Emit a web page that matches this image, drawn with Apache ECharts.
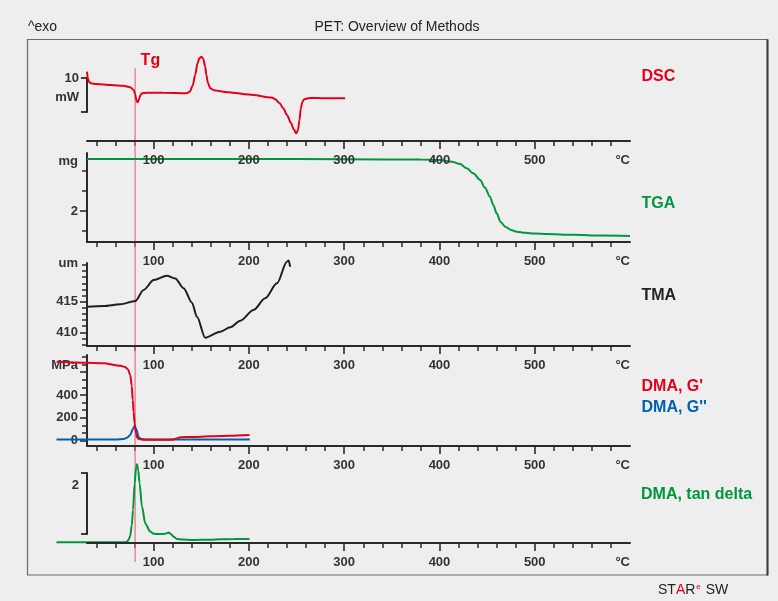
<!DOCTYPE html>
<html><head><meta charset="utf-8">
<script src="https://cdn.jsdelivr.net/npm/echarts@6/dist/echarts.min.js"></script>
<style>html,body{margin:0;padding:0;background:#eeeeee}#c{width:778px;height:601px}</style>
</head><body><div id="c"></div>
<script>
// ---------- axis / tick data ----------
const xMin = 30, xMax = 600;
const xDataMin = -10;   // DMA curves start left of the temperature axis
const xMinorTicks = [40,60,80,120,140,160,180,220,240,260,280,320,340,360,380,420,440,460,480,520,540,560,580];
const xMajorTicks = [100,200,300,400,500];
const xLabelVals = [100,200,300,400,500,600];
const xLabelText = ['100','200','300','400','500','°C'];

const tgaMinorTicks = [1.5,2.5,3];
const tgaMajorTicks = [2];
const tgaLabelVals = [2,3.22];
const tgaLabelText = ['2','mg'];

const tmaMinorTicks = [408,409,411,412,413,414,416,417,418,419,420,421];
const tmaMajorTicks = [410,415];
const tmaLabelVals = [410,415,421.2];
const tmaLabelText = ['410','415','um'];

const dmaMinorTicks = [66.7,133.3,266.7,333.3,466.7,533.3,666.7,733.3];
const dmaMajorTicks = [0,200,400,600];
const dmaLabelVals = [0,200,400,663];
const dmaLabelText = ['0','200','400','MPa'];

const dscBarTicks = [0,10];
const dscBarLabelVals = [4.3,10];
const dscBarLabelText = ['mW','10'];
const tanBarTicks = [0,2];
const tanBarLabelVals = [1.6];
const tanBarLabelText = ['2'];

const Tg = 80.5;

// ---------- series data ----------
const dscT = [30,31,32,34,40,55,68.4,75.4,79,80.5,81.8,83.1,84.5,86,87.7,93,110,135,138,141,143.6,146,148,150,152,154,155.2,157,159.4,163,170,177,200,224,228,232,236,240,244,247,249.6,251.5,253,254.5,256,258,264,280,301];
const dscV = [11.87,9.8,8.9,8.45,8.2,7.9,7.7,7.24,6.44,5.2,3.5,2.79,3.6,4.9,5.46,5.64,5.6,5.5,6.0,7.8,11.0,14.3,15.9,16.3,15.7,13.5,11.0,8.5,6.94,6.4,6.1,5.8,5.1,4.2,3.6,2.6,1.0,-1.0,-3.3,-5.2,-6.4,-5.5,-2.5,1.0,2.9,3.7,4.1,4.0,3.98];

const tgaT = [30,100,200,300,380,400,413,421.6,428.7,435.5,442.7,447.7,453,456.5,460,464.2,469,475,481,490,500,512.6,540,570,600];
const tgaV = [3.29,3.29,3.29,3.285,3.275,3.265,3.223,3.166,3.06,2.935,2.77,2.58,2.355,2.15,1.943,1.73,1.61,1.53,1.486,1.46,1.44,1.43,1.41,1.39,1.38];

const tmaT = [30,47.4,65,80.7,89.4,100,113.9,122.6,131.4,140.2,145.4,154.1,169.9,180.4,190.9,204.8,217.1,229.4,239.9,241.6,243.3];
const tmaV = [414.18,414.3,414.57,415.11,416.9,418.54,419.24,418.8,417.19,414.84,412.55,409.13,410.1,410.82,411.9,413.65,415.55,418.0,421.53,421.7,420.7];

const dmaG1T = [-2,30,47,65,70,73,75.4,77,78,79,80,81.3,82.5,84,87.7,100,115,121,124,128,140,160,180,200.6];
const dmaG1V = [692,683,678,657,645,625,575,480,356,250,152,70,30,16,10,8,8,10,20,30,33,38,43,50];
const dmaG2T = [-2,30,60,68.4,72,75.4,78,80,82,84.2,87,89.4,100,150,201];
const dmaG2V = [10,10,11,14,25,50,100,129,95,30,14,10,10,10,10];

const tanT = [-2,30,60,70,72,74,75.4,77,78.3,80,81.5,82.5,83.8,85.2,87.7,91.2,96.4,100,107,112,115.7,118,121,124.4,130,141.9,160,170,185,200.6];
const tanV = [0,0,0,0,0.02,0.1,0.22,0.55,1.06,1.93,2.45,2.56,2.35,1.93,1.17,0.62,0.35,0.28,0.27,0.28,0.32,0.27,0.18,0.11,0.09,0.075,0.085,0.1,0.105,0.11];

// ---------- styling ----------
const FONT = '"Liberation Sans", Arial, Helvetica, sans-serif';
const RED = '#e2001a', GREEN = '#00963f', BLUE = '#0060ad', BLACK = '#1e1e1e';
const AX = '#2a2a2a';
const L = 87, R = 148;
const PX_PER_DEG = (778 - R - L) / (xMax - xMin);
const L_DATA = L - (xMin - xDataMin) * PX_PER_DEG;

function pair(a, b) { return a.map((t, i) => [t, b[i]]); }
function lookup(vals, texts) {
  return function (v) {
    for (let i = 0; i < vals.length; i++) if (Math.abs(vals[i] - v) < 1e-6) return texts[i];
    return '';
  };
}
function grid(top, height, left) {
  return { left: left == null ? L : left, right: R, top: top, height: height, containLabel: false, outerBoundsMode: 'none', show: false };
}
const labelStyle = { color: '#333', fontSize: 13, fontWeight: 'bold', fontFamily: FONT };

function xPair(gi) {
  return [
    { type: 'value', gridIndex: gi, min: xMin, max: xMax, position: 'bottom',
      axisLine: { show: false, onZero: false }, splitLine: { show: false },
      axisLabel: { show: false },
      axisTick: { show: true, length: 5, customValues: xMinorTicks, lineStyle: { color: AX, width: 1.5 } } },
    { type: 'value', gridIndex: gi, min: xMin, max: xMax, position: 'bottom', z: 5,
      axisLine: { show: true, onZero: false, lineStyle: { color: AX, width: 2 } }, splitLine: { show: false },
      axisTick: { show: true, length: 8, customValues: xMajorTicks, lineStyle: { color: AX, width: 1.6 } },
      axisLabel: Object.assign({ show: true, margin: 13, customValues: xLabelVals, formatter: lookup(xLabelVals, xLabelText), alignMaxLabel: 'right' }, labelStyle) }
  ];
}
function xHidden(gi, min) {
  return { type: 'value', gridIndex: gi, min: min == null ? xMin : min, max: xMax, show: false, axisLine: { onZero: false } };
}
function yPair(gi, min, max, minor, major, lv, lt) {
  return [
    { type: 'value', gridIndex: gi, min: min, max: max, position: 'left',
      axisLine: { show: false, onZero: false }, splitLine: { show: false }, axisLabel: { show: false },
      axisTick: { show: true, length: 5, customValues: minor, lineStyle: { color: AX, width: 1.5 } } },
    { type: 'value', gridIndex: gi, min: min, max: max, position: 'left',
      axisLine: { show: true, onZero: false, lineStyle: { color: AX, width: 2 } }, splitLine: { show: false },
      axisTick: { show: true, length: 7, customValues: major, lineStyle: { color: AX, width: 1.6 } },
      axisLabel: Object.assign({ show: true, margin: 9, customValues: lv, formatter: lookup(lv, lt) }, labelStyle) }
  ];
}
function yBracket(gi, min, max, ticks, lv, lt) {
  return { type: 'value', gridIndex: gi, min: min, max: max, position: 'left',
    axisLine: { show: true, onZero: false, lineStyle: { color: AX, width: 2 } }, splitLine: { show: false },
    axisTick: { show: true, length: 6, customValues: ticks, lineStyle: { color: AX, width: 1.8 } },
    axisLabel: Object.assign({ show: true, margin: 8, customValues: lv, formatter: lookup(lv, lt) }, labelStyle) };
}
function yHidden(gi, min, max) {
  return { type: 'value', gridIndex: gi, min: min, max: max, show: false, axisLine: { onZero: false }, splitLine: { show: false } };
}
function line(data, color, xi, yi, extra) {
  return Object.assign({ type: 'line', data: data, xAxisIndex: xi, yAxisIndex: yi, symbol: 'none',
    smooth: 0.3, smoothMonotone: 'x', lineStyle: { color: color, width: 2 }, z: 3, silent: true, animation: false }, extra || {});
}

const DMA_MIN = -46.4, DMA_MAX = 750.4, TAN_MIN = -0.023, TAN_MAX = 2.862;

const grids = [
  grid(50, 91),    // 0 DSC
  grid(78, 34),    // 1 DSC bracket
  grid(153, 89),   // 2 TGA
  grid(263, 83),   // 3 TMA
  grid(355, 91),   // 4 DMA axes
  grid(455, 88),   // 5 tan delta axes
  grid(473, 61),   // 6 tan delta bracket
  grid(68, 494),   // 7 Tg marker
  grid(355, 91, L_DATA), // 8 DMA curves (extends left of the axis)
  grid(455, 88, L_DATA)  // 9 tan delta curve
];

const xAxes = [].concat(xPair(0), xPair(2), xPair(3), xPair(4), xPair(5),
  [xHidden(1), xHidden(6), xHidden(7), xHidden(8, xDataMin), xHidden(9, xDataMin)]);
const yAxes = [].concat(
  [yHidden(0, -8.69, 18.31)],
  [yBracket(1, 0, 10, dscBarTicks, dscBarLabelVals, dscBarLabelText)],
  yPair(2, 1.231, 3.439, tgaMinorTicks, tgaMajorTicks, tgaLabelVals, tgaLabelText),
  yPair(3, 407.77, 421.31, tmaMinorTicks, tmaMajorTicks, tmaLabelVals, tmaLabelText),
  yPair(4, DMA_MIN, DMA_MAX, dmaMinorTicks, dmaMajorTicks, dmaLabelVals, dmaLabelText),
  [yHidden(5, TAN_MIN, TAN_MAX)],
  [yBracket(6, 0, 2, tanBarTicks, tanBarLabelVals, tanBarLabelText)],
  [yHidden(7, 0, 1)],
  [yHidden(8, DMA_MIN, DMA_MAX)],
  [yHidden(9, TAN_MIN, TAN_MAX)]
);

const series = [
  { type: 'line', data: [[Tg, 0], [Tg, 1]], xAxisIndex: 12, yAxisIndex: 10, symbol: 'none', z: 1, animation: false,
    lineStyle: { color: '#e8707c', width: 1.2 }, silent: true },
  { type: 'scatter', data: [[Tg, 1]], xAxisIndex: 12, yAxisIndex: 10, symbolSize: 1, itemStyle: { color: RED, opacity: 0 },
    animation: false, silent: true, z: 6,
    label: { show: true, formatter: 'Tg', position: [6, -15], color: RED, opacity: 1, textBorderWidth: 0, fontSize: 16, fontWeight: 'bold', fontFamily: FONT } },
  line(pair(dscT, dscV), RED, 1, 0),
  line(pair(tgaT, tgaV), GREEN, 3, 3),
  line(pair(tmaT, tmaV), BLACK, 5, 5, { clip: false }),
  line(pair(dmaG2T, dmaG2V), BLUE, 13, 11),
  line(pair(dmaG1T, dmaG1V), RED, 13, 11),
  line(pair(tanT, tanV), GREEN, 14, 12, { z: 1 })
];

function txt(x, y, text, color, size, weight, align) {
  return { type: 'text', x: x, y: y, z: 10, silent: true,
    style: { text: text, fill: color, font: (weight || 'normal') + ' ' + size + 'px ' + FONT, align: align || 'left', verticalAlign: 'middle' } };
}

const graphics = [
  { type: 'rect', z: 0, silent: true, shape: { x: 27.5, y: 39.5, width: 740, height: 535.5 }, style: { fill: 'none', stroke: '#6a6a6a', lineWidth: 1.2 } },
  { type: 'line', z: 0, silent: true, shape: { x1: 767.5, y1: 39.5, x2: 767.5, y2: 575.5 }, style: { stroke: '#3a3a3a', lineWidth: 2 } },
  txt(28, 27, '^exo', '#222', 14),
  txt(397, 27, 'PET: Overview of Methods', '#222', 14, 'normal', 'center'),
  txt(641.5, 77, 'DSC', RED, 16, 'bold'),
  txt(641.5, 203.5, 'TGA', GREEN, 16, 'bold'),
  txt(641.5, 296, 'TMA', '#222', 16, 'bold'),
  txt(641.5, 387, "DMA, G'", RED, 16, 'bold'),
  txt(641.5, 408, "DMA, G''", BLUE, 16, 'bold'),
  txt(641, 494.5, 'DMA, tan delta', GREEN, 16, 'bold'),
  { type: 'text', x: 658, y: 590, z: 10, silent: true,
    style: { text: '{k|ST}{r|A}{k|R}{s|e}{k| SW}', align: 'left', verticalAlign: 'middle',
      rich: {
        k: { fill: '#222', fontSize: 14, fontFamily: FONT },
        r: { fill: RED, fontSize: 14, fontFamily: FONT },
        s: { fill: RED, fontSize: 8, fontFamily: FONT, verticalAlign: 'top', padding: [0, 1, 6, 1] }
      } } }
];

const chart = echarts.init(document.getElementById('c'), null, { renderer: 'canvas' });
chart.setOption({
  backgroundColor: '#eeeeee',
  animation: false,
  grid: grids,
  xAxis: xAxes,
  yAxis: yAxes,
  series: series,
  graphic: graphics
});
</script></body></html>
